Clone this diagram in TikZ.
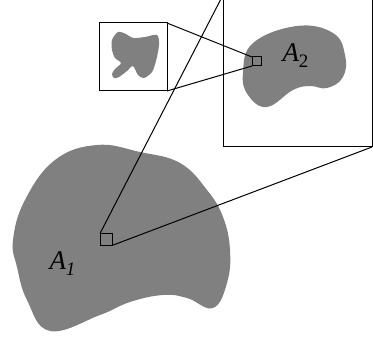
\documentclass[tikz,border=0pt]{standalone}
\usepackage{fontspec}
\setmainfont{Liberation Serif}
\newcommand{\mysub}[1]{\raisebox{-0.22em}{\fontsize{19}{19}\selectfont #1}}
\begin{document}
\begin{tikzpicture}[x=1pt,y=-1pt,line width=1pt,
  frame/.style={draw,rectangle,inner sep=0pt,outer sep=0pt,line width=1pt},
  lbl/.style={font=\fontsize{27}{30}\selectfont\itshape,inner sep=0pt,anchor=base west}]
\useasboundingbox (0,0) rectangle (373,339);
\clip (0,0) rectangle (373,339);
% big blob A1
\fill[gray] plot[smooth cycle,tension=0.7] coordinates {
 (97,145) (140,152) (180,163) (207,190) (223,217) (230,250) (227,283) (213,308)
 (187,298) (163,295) (130,302) (100,315) (50,331) (27,300) (17,267) (13,240) (25,200) (55,160)};
% blob A2
\fill[gray] plot[smooth cycle,tension=0.7] coordinates {
 (297,26) (333,33) (345,55) (343,77) (327,88) (310,86) (293,90) (267,107) (248,95) (243,73) (253,43)};
% small blob
\fill[gray] plot[smooth cycle,tension=0.5] coordinates {
 (118,32) (126,34) (133,38) (145,37) (157,35) (159,45) (156,61) (152,72)
 (144,78) (138,75) (133,66) (127,71) (119,77) (114,78) (112,74) (115,69) (121,63)
 (115,58) (112,50) (112,40)};
% frames
\node[frame,minimum width=149pt,minimum height=152pt] (big) at (297.5,71) {};
\node[frame,minimum width=68pt,minimum height=68pt] (small) at (133,57) {};
\node[frame,minimum size=9pt] (sqB) at (256.5,61.5) {};
\node[frame,minimum size=12pt] (sqA) at (106,239.5) {};
% connectors
\draw (sqA.north west) -- (big.north west);
\draw (sqA.south east) -- (big.south east);
\draw (small.north east) -- (sqB.north west);
\draw (small.south east) -- (sqB.south west);
% labels
\node[lbl] (la) at (49,270) {A\mysub{\itshape 1}};
\node[lbl] (lb) at (282,62) {A\mysub{\upshape 2}};
\end{tikzpicture}
\end{document}
